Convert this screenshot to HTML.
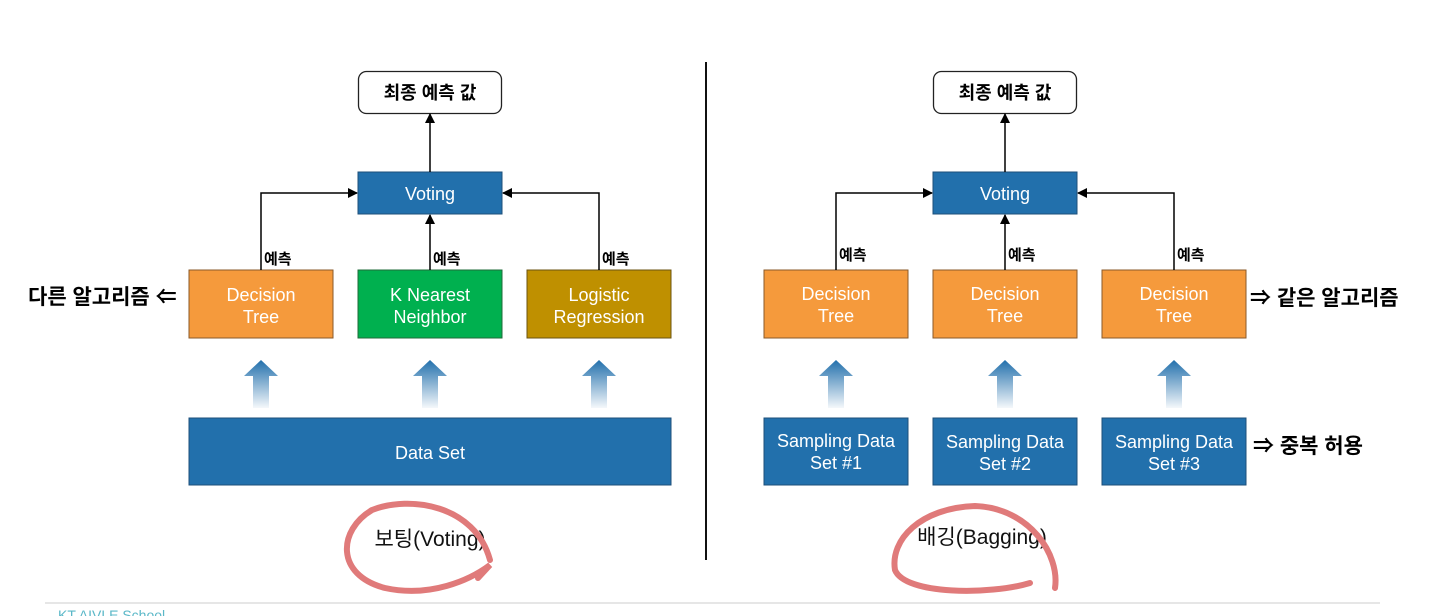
<!DOCTYPE html>
<html><head><meta charset="utf-8"><style>
html,body{margin:0;padding:0;background:#fff;}
svg{display:block;}
text{font-family:"Liberation Sans","Noto Sans CJK KR",sans-serif;}
</style></head><body>
<svg width="1440" height="616" viewBox="0 0 1440 616" xmlns="http://www.w3.org/2000/svg">
<defs>
<marker id="ah" markerWidth="10" markerHeight="10" refX="9" refY="5" orient="auto" markerUnits="userSpaceOnUse"><path d="M0,0 L10,5 L0,10 z" fill="#000"/></marker>
<linearGradient id="fg" x1="0" y1="0" x2="0" y2="1"><stop offset="0" stop-color="#2270ac"/><stop offset="1" stop-color="#2270ac" stop-opacity="0.05"/></linearGradient>
<g id="fat"><path d="M-17,16 L0,0 L17,16 L8,16 L8,48 L-8,48 L-8,16 z" fill="url(#fg)"/></g>
</defs>
<g font-size="18" text-anchor="middle" fill="#fff">
<rect x="358.5" y="71.5" width="143" height="42" rx="8" fill="#fff" stroke="#222" stroke-width="1.3"/>
<text x="430" y="99" fill="#000" font-weight="bold">최종 예측 값</text>
<rect x="358" y="172" width="144" height="42" fill="#2270ac" stroke="#1d4f7a"/>
<text x="430" y="200">Voting</text>
<rect x="189" y="270" width="144" height="68" fill="#f59a3c" stroke="#8a5a2a"/>
<text x="261" y="301">Decision</text><text x="261" y="323">Tree</text>
<rect x="358" y="270" width="144" height="68" fill="#00b04f" stroke="#1f6b3a"/>
<text x="430" y="301">K Nearest</text><text x="430" y="323">Neighbor</text>
<rect x="527" y="270" width="144" height="68" fill="#bf9000" stroke="#6b5310"/>
<text x="599" y="301">Logistic</text><text x="599" y="323">Regression</text>
<rect x="189" y="418" width="482" height="67" fill="#2270ac" stroke="#1d4f7a"/>
<text x="430" y="459">Data Set</text>
<rect x="933.5" y="71.5" width="143" height="42" rx="8" fill="#fff" stroke="#222" stroke-width="1.3"/>
<text x="1005" y="99" fill="#000" font-weight="bold">최종 예측 값</text>
<rect x="933" y="172" width="144" height="42" fill="#2270ac" stroke="#1d4f7a"/>
<text x="1005" y="200">Voting</text>
<rect x="764" y="270" width="144" height="68" fill="#f59a3c" stroke="#8a5a2a"/>
<text x="836" y="300">Decision</text><text x="836" y="322">Tree</text>
<rect x="933" y="270" width="144" height="68" fill="#f59a3c" stroke="#8a5a2a"/>
<text x="1005" y="300">Decision</text><text x="1005" y="322">Tree</text>
<rect x="1102" y="270" width="144" height="68" fill="#f59a3c" stroke="#8a5a2a"/>
<text x="1174" y="300">Decision</text><text x="1174" y="322">Tree</text>
<rect x="764" y="418" width="144" height="67" fill="#2270ac" stroke="#1d4f7a"/>
<text x="836" y="447">Sampling Data</text><text x="836" y="469">Set #1</text>
<rect x="933" y="418" width="144" height="67" fill="#2270ac" stroke="#1d4f7a"/>
<text x="1005" y="448">Sampling Data</text><text x="1005" y="470">Set #2</text>
<rect x="1102" y="418" width="144" height="67" fill="#2270ac" stroke="#1d4f7a"/>
<text x="1174" y="448">Sampling Data</text><text x="1174" y="470">Set #3</text>
</g>
<g stroke="#000" stroke-width="1.5" fill="none">
<path d="M261,270 V193 H357" marker-end="url(#ah)"/>
<path d="M430,270 V215" marker-end="url(#ah)"/>
<path d="M599,270 V193 H503" marker-end="url(#ah)"/>
<path d="M430,172 V114" marker-end="url(#ah)"/>
<path d="M836,270 V193 H932" marker-end="url(#ah)"/>
<path d="M1005,270 V215" marker-end="url(#ah)"/>
<path d="M1174,270 V193 H1078" marker-end="url(#ah)"/>
<path d="M1005,172 V114" marker-end="url(#ah)"/>
</g>
<g font-size="15" font-weight="bold" fill="#000">
<text x="264" y="264">예측</text><text x="433" y="264">예측</text><text x="602" y="264">예측</text>
<text x="839" y="260">예측</text><text x="1008" y="260">예측</text><text x="1177" y="260">예측</text>
</g>
<use href="#fat" x="261" y="360"/><use href="#fat" x="430" y="360"/><use href="#fat" x="599" y="360"/>
<use href="#fat" x="836" y="360"/><use href="#fat" x="1005" y="360"/><use href="#fat" x="1174" y="360"/>
<line x1="706" y1="62" x2="706" y2="560" stroke="#111" stroke-width="2"/>
<text x="430" y="546" font-size="21" text-anchor="middle" fill="#111">보팅(Voting)</text>
<text x="982" y="544" font-size="21" text-anchor="middle" fill="#111">배깅(Bagging)</text>
<g stroke="#e07a7a" stroke-width="6" fill="none" stroke-linecap="round">
<path d="M490,560 C475,505 410,495 372,510 C338,530 335,575 385,588 C430,598 470,580 490,565 L478,578"/>
<path d="M1055,588 C1060,555 1030,508 975,506 C920,508 890,540 895,570 C905,595 990,595 1030,583"/>
</g>
<g font-size="21" fill="#000" font-weight="bold">
<text x="28" y="304">다른 알고리즘 ⇐</text>
<text x="1250" y="305">⇒ 같은 알고리즘</text>
<text x="1253" y="453">⇒ 중복 허용</text>
</g>
<line x1="45" y1="603" x2="1380" y2="603" stroke="#ddd" stroke-width="1.5"/>
<text x="58" y="620" font-size="14" fill="#5bb8c8">KT AIVLE School</text>
</svg>
</body></html>
